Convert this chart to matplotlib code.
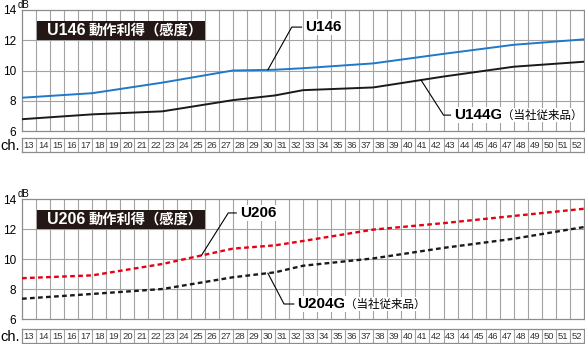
import numpy as np
import matplotlib
matplotlib.use('Agg')
import matplotlib.pyplot as plt
from matplotlib.patches import Rectangle
from matplotlib.text import Annotation

# ------------------------------------------------------------------
# data
# ------------------------------------------------------------------
channels = list(range(13, 53))
key_ch = [12.5, 17.5, 22.5, 27.5, 30.5, 32.5, 37.5, 42.5, 47.5, 52.5]

u146 = [8.2, 8.5, 9.2, 10.0, 10.05, 10.15, 10.47, 11.1, 11.7, 12.06]
u144g = [6.78, 7.1, 7.3, 8.04, 8.35, 8.7, 8.88, 9.6, 10.25, 10.58]

u206 = [8.72, 8.91, 9.67, 10.69, 10.91, 11.2, 11.96, 12.39, 12.87, 13.35]
u204g = [7.35, 7.67, 8.0, 8.78, 9.11, 9.55, 10.04, 10.74, 11.35, 12.13]

y_ticks = [6, 8, 10, 12, 14]

W, H = 585, 344
JP = ['Noto Sans CJK JP', 'DejaVu Sans']
LAT = ['Liberation Sans', 'DejaVu Sans']
GRID = '#a3a3a3'
DARK = '#231815'

fig = plt.figure(figsize=(W / 100, H / 100), dpi=100)


def fx(px):
    return px / W


def fy(py):
    return 1 - py / H


def main_axes(top, bottom):
    ax = fig.add_axes([fx(22), fy(bottom), fx(584 - 22), (bottom - top) / H])
    ax.set_xlim(12.5, 52.5)
    ax.set_ylim(6, 14)
    for x in np.arange(13.5, 52.5, 1.0):
        ax.axvline(x, color=GRID, lw=0.8, zorder=0)
    for y in y_ticks[1:-1]:
        ax.axhline(y, color=GRID, lw=0.8, zorder=0)
    ax.set_xticks([])
    ax.set_yticks(y_ticks)
    ax.set_yticklabels([str(v) for v in y_ticks], family=LAT, fontsize=8.5)
    ax.tick_params(axis='y', length=0, pad=4)
    for s in ax.spines.values():
        s.set_color('#8c8c8c')
        s.set_linewidth(0.9)
    ax.text(-0.008, 1.0, 'dB', transform=ax.transAxes, fontsize=7,
            family=LAT, ha='left', va='bottom')
    return ax


def ch_row(top, bottom):
    ax = fig.add_axes([fx(22), fy(bottom), fx(584 - 22), (bottom - top) / H])
    ax.set_xlim(12.5, 52.5)
    ax.set_ylim(0, 1)
    ax.set_xticks([])
    ax.set_yticks([])
    for x in np.arange(13.5, 52.5, 1.0):
        ax.axvline(x, color=GRID, lw=0.8)
    for s in ax.spines.values():
        s.set_color('#8c8c8c')
        s.set_linewidth(0.9)
    for c in channels:
        ax.text(c, 0.45, str(c), ha='center', va='center', fontsize=6.8,
                family=LAT, color='#333333')
    fig.text(fx(0), fy((top + bottom) / 2 + 1), 'ch.', fontsize=10.5,
             family=LAT, ha='left', va='center')


def title_box(top, bottom, model):
    fig.add_artist(Rectangle((fx(37), fy(bottom)), fx(205 - 37), (bottom - top) / H,
                             transform=fig.transFigure, facecolor=DARK,
                             edgecolor='none', zorder=3))
    t = fig.text(fx(47), fy((top + bottom) / 2), model, color='white',
                 fontsize=11.5, weight='bold', family=LAT, va='center', zorder=4)
    fig.add_artist(Annotation(
        '動作利得（感度）', xy=(1, 0.5), xycoords=t, xytext=(2, 0),
        textcoords='offset points', color='white', fontsize=10.3, family=JP,
        weight='bold', va='center', zorder=4))


def label(ax, xs, ys, ch_start, elbow, end_ch, name, sub=None):
    y0 = np.interp(ch_start, xs, ys)
    ax.plot([ch_start, elbow[0], end_ch], [y0, elbow[1], elbow[1]],
            color='black', lw=0.8, zorder=4)
    t = ax.text(end_ch + 0.25, elbow[1], name, fontsize=11, weight='bold',
                family=LAT, va='center', ha='left', zorder=5,
                bbox=dict(facecolor='white', edgecolor='none', pad=0.8))
    if sub:
        ax.annotate(sub, xy=(1, 0.5), xycoords=t, xytext=(-0.5, 0),
                    textcoords='offset points', fontsize=8.3, family=JP,
                    va='center', ha='left', zorder=5,
                    bbox=dict(facecolor='white', edgecolor='none', pad=0.5))


# ------------------------------------------------------------------
# top chart: U146
# ------------------------------------------------------------------
ax1 = main_axes(10, 131)
ax1.plot(key_ch, u146, color='#1f78c8', lw=1.4, zorder=3)
ax1.plot(key_ch, u144g, color='#1a1a1a', lw=1.4, zorder=3)
label(ax1, key_ch, u146, 30.0, (31.7, 12.87), 32.4, 'U146')
label(ax1, key_ch, u144g, 40.9, (42.5, 7.05), 43.0, 'U144G', '（当社従来品）')
ch_row(138, 152)
title_box(21, 40, 'U146')

# ------------------------------------------------------------------
# bottom chart: U206
# ------------------------------------------------------------------
ax2 = main_axes(199, 319)
ax2.plot(key_ch, u206, color='#e60012', lw=1.7, dashes=(2.0, 1.4), zorder=3)
ax2.plot(key_ch, u204g, color='#1a1a1a', lw=1.7, dashes=(2.0, 1.4), zorder=3)
label(ax2, key_ch, u206, 25.27, (27.18, 13.07), 27.75, 'U206')
label(ax2, key_ch, u204g, 30.0, (31.15, 7.0), 31.85, 'U204G', '（当社従来品）')
ch_row(329, 343)
title_box(210, 229, 'U206')

plt.savefig('out.png', dpi=100)
